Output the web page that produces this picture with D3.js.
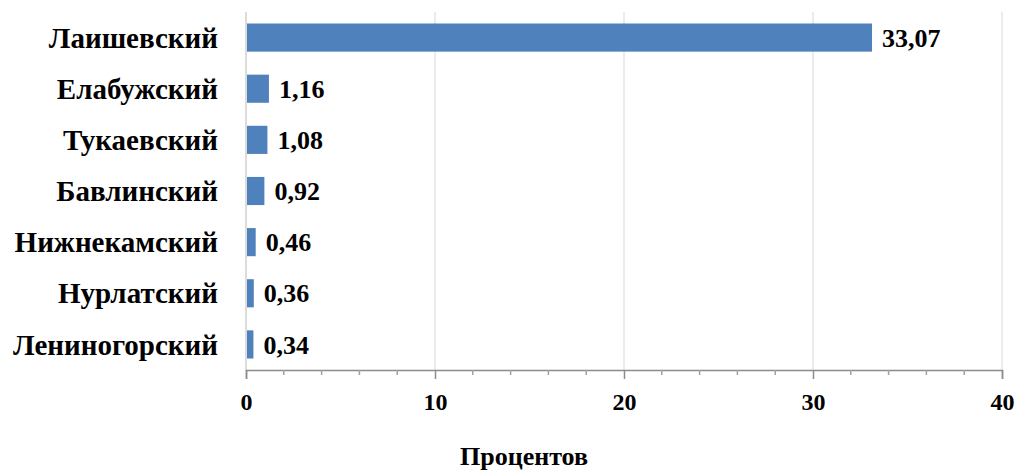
<!DOCTYPE html>
<html><head><meta charset="utf-8">
<script src="https://cdn.jsdelivr.net/npm/d3@7"></script>
<style>body{margin:0;background:#fff}svg{display:block}text{font-family:"Liberation Serif","Times New Roman",serif;font-weight:bold;fill:#000}</style>
</head><body>
<svg id="c" width="1018" height="470"></svg>
<script>
const categories = ["Лаишевский","Елабужский","Тукаевский","Бавлинский","Нижнекамский","Нурлатский","Лениногорский"];
const values = [33.07, 1.16, 1.08, 0.92, 0.46, 0.36, 0.34];
const majorTicks = [0, 10, 20, 30, 40];
const minorTicks = d3.range(0, 41, 2);
const axisTitle = "Процентов";

const svg = d3.select("#c");
const m = {left: 246, right: 1002, top: 12, bottom: 370};
const x = d3.scaleLinear().domain([0, 40]).range([m.left, m.right]);
const y = d3.scaleBand().domain(categories).range([m.top, m.bottom]).paddingInner(0.45).paddingOuter(0.225);

// gridlines
svg.append("g").selectAll("line").data(majorTicks.filter(d => d > 0)).join("line")
  .attr("x1", d => x(d)).attr("x2", d => x(d)).attr("y1", m.top).attr("y2", m.bottom)
  .attr("stroke", "#d9d9d9").attr("stroke-width", 1);
// vertical axis line
svg.append("line").attr("x1", x(0)).attr("x2", x(0)).attr("y1", m.top).attr("y2", m.bottom)
  .attr("stroke", "#d0d0d0").attr("stroke-width", 1.5);

// bars
svg.append("g").selectAll("rect").data(values).join("rect")
  .attr("x", x(0) + 1).attr("y", (d, i) => y(categories[i]))
  .attr("width", d => x(d) - x(0)).attr("height", y.bandwidth())
  .attr("fill", "#4f81bd");

// value labels
svg.append("g").selectAll("text").data(values).join("text")
  .attr("x", d => x(d) + 11).attr("y", (d, i) => y(categories[i]) + y.bandwidth() / 2)
  .attr("dy", "0.35em").attr("font-size", 26)
  .text(d => d3.format(".2f")(d).replace(".", ","));

// category labels
svg.append("g").selectAll("text").data(categories).join("text")
  .attr("x", 218).attr("y", d => y(d) + y.bandwidth() / 2)
  .attr("dy", "0.35em").attr("text-anchor", "end").attr("font-size", 29)
  .text(d => d);

// x axis
const ax = svg.append("g").attr("transform", `translate(0,${m.bottom})`)
  .call(d3.axisBottom(x).tickValues(majorTicks).tickSize(9).tickPadding(14).tickFormat(d3.format("d")));
ax.select(".domain").attr("stroke", "#8c8c8c").attr("stroke-width", 1.5);
ax.selectAll(".tick line").attr("stroke", "#8c8c8c").attr("stroke-width", 1.5);
ax.selectAll(".tick text").attr("font-size", 24).attr("font-family", "Liberation Serif").attr("font-weight", "bold").attr("fill", "#000");
svg.append("g").selectAll("line").data(minorTicks.filter(d => !majorTicks.includes(d))).join("line")
  .attr("x1", d => x(d)).attr("x2", d => x(d)).attr("y1", m.bottom).attr("y2", m.bottom + 5)
  .attr("stroke", "#a0a0a0").attr("stroke-width", 1.5);

svg.append("text").attr("x", 524).attr("y", 465).attr("text-anchor", "middle")
  .attr("font-size", 26).text(axisTitle);
</script>
</body></html>
